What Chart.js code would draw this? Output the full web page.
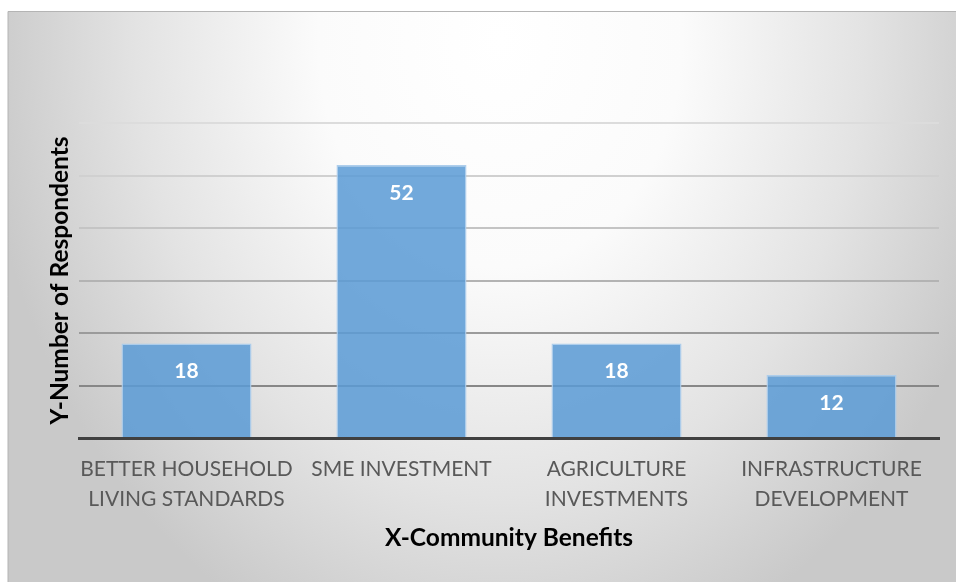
<!DOCTYPE html>
<html>
<head>
<meta charset="utf-8">
<script src="https://cdn.jsdelivr.net/npm/chart.js@4/dist/chart.umd.min.js"></script>
<style>
  html, body { margin: 0; padding: 0; background: #ffffff; }
  #wrap { width: 959px; height: 582px; position: relative; }
</style>
</head>
<body>
<div id="wrap"><canvas id="c" width="959" height="582"></canvas></div>
<script>
// Survey results: community benefits named by respondents
const categories = [
  ['BETTER HOUSEHOLD', 'LIVING STANDARDS'],
  ['SME INVESTMENT'],
  ['AGRICULTURE', 'INVESTMENTS'],
  ['INFRASTRUCTURE', 'DEVELOPMENT']
];
const respondents = [18, 52, 18, 12];
const yTicks = [0, 10, 20, 30, 40, 50, 60];
const xTitle = 'X-Community Benefits';
const yTitle = 'Y-Number of Respondents';

const FONT = 'Lato, "Open Sans", sans-serif';

// Grid lines darken towards the baseline
const gridShades = {10: '#878787', 20: '#9b9b9b', 30: '#b3b3b3', 40: '#c4c4c4', 50: '#d0d0d0', 60: '#dcdcdc'};

// Panel background: soft light-grey gradient, brightest near the top centre
const panelBackground = {
  id: 'panelBackground',
  beforeDraw(chart) {
    const ctx = chart.ctx;
    const x0 = 8, y0 = 11, x1 = 956, y1 = 582;
    ctx.save();
    ctx.translate(500, 40);
    ctx.scale(1, 1.25);
    const g = ctx.createRadialGradient(0, 0, 0, 0, 0, 520);
    g.addColorStop(0, '#ffffff');
    g.addColorStop(0.35, '#fbfbfb');
    g.addColorStop(0.7, '#e3e3e3');
    g.addColorStop(1, '#c9c9c9');
    ctx.fillStyle = g;
    ctx.fillRect(x0 - 500, (y0 - 40) / 1.25, x1 - x0, (y1 - y0) / 1.25);
    ctx.restore();
    ctx.save();
    ctx.strokeStyle = '#b4b4b4';
    ctx.lineWidth = 1;
    ctx.beginPath();
    ctx.moveTo(x0, y1);
    ctx.lineTo(x0, y0 + 0.5);
    ctx.lineTo(x1, y0 + 0.5);
    ctx.stroke();
    ctx.restore();
  }
};

// Value labels written inside the top of each bar
const barValues = {
  id: 'barValues',
  afterDatasetsDraw(chart) {
    const ctx = chart.ctx;
    const meta = chart.getDatasetMeta(0);
    ctx.save();
    ctx.fillStyle = '#ffffff';
    ctx.font = 'bold 21px ' + FONT;
    ctx.textAlign = 'center';
    ctx.textBaseline = 'middle';
    meta.data.forEach((bar, i) => {
      ctx.fillText(String(respondents[i]), bar.x, bar.y + 28);
    });
    ctx.restore();
  }
};

new Chart(document.getElementById('c'), {
  type: 'bar',
  data: {
    labels: categories,
    datasets: [{
      data: respondents,
      backgroundColor: 'rgba(91,155,213,0.86)',
      borderColor: 'rgba(170,203,235,0.95)',
      borderWidth: 1.5,
      borderSkipped: 'bottom',
      categoryPercentage: 1,
      barPercentage: 0.605
    }]
  },
  options: {
    responsive: false,
    animation: false,
    layout: { padding: { left: 8, right: 20, top: 123, bottom: 0 } },
    plugins: { legend: { display: false }, tooltip: { enabled: false } },
    scales: {
      x: {
        grid: { display: false, drawTicks: false },
        border: { display: true, color: '#404040', width: 3 },
        ticks: {
          color: '#595959',
          font: { family: FONT, size: 21, lineHeight: 1.43 },
          padding: 16,
          maxRotation: 0,
          autoSkip: false
        },
        title: {
          display: true,
          text: xTitle,
          color: '#000000',
          font: { family: FONT, size: 24.5, weight: 'bold' },
          padding: { top: 0, bottom: 29 }
        },
        afterFit(s) { s.height = 582 - 438; }
      },
      y: {
        min: 0,
        max: 60,
        afterBuildTicks(s) { s.ticks = yTicks.map(v => ({ value: v })); },
        ticks: { display: false },
        grid: {
          drawTicks: false,
          lineWidth: 2,
          color: ctx => gridShades[ctx.tick && ctx.tick.value] || 'rgba(0,0,0,0)'
        },
        border: { display: false },
        title: {
          display: true,
          text: yTitle,
          color: '#000000',
          font: { family: FONT, size: 24.5, weight: 'bold' },
          padding: { top: 37, bottom: 0 }
        },
        afterFit(s) { s.width = 79 - 8; }
      }
    }
  },
  plugins: [panelBackground, barValues]
});
</script>
</body>
</html>
